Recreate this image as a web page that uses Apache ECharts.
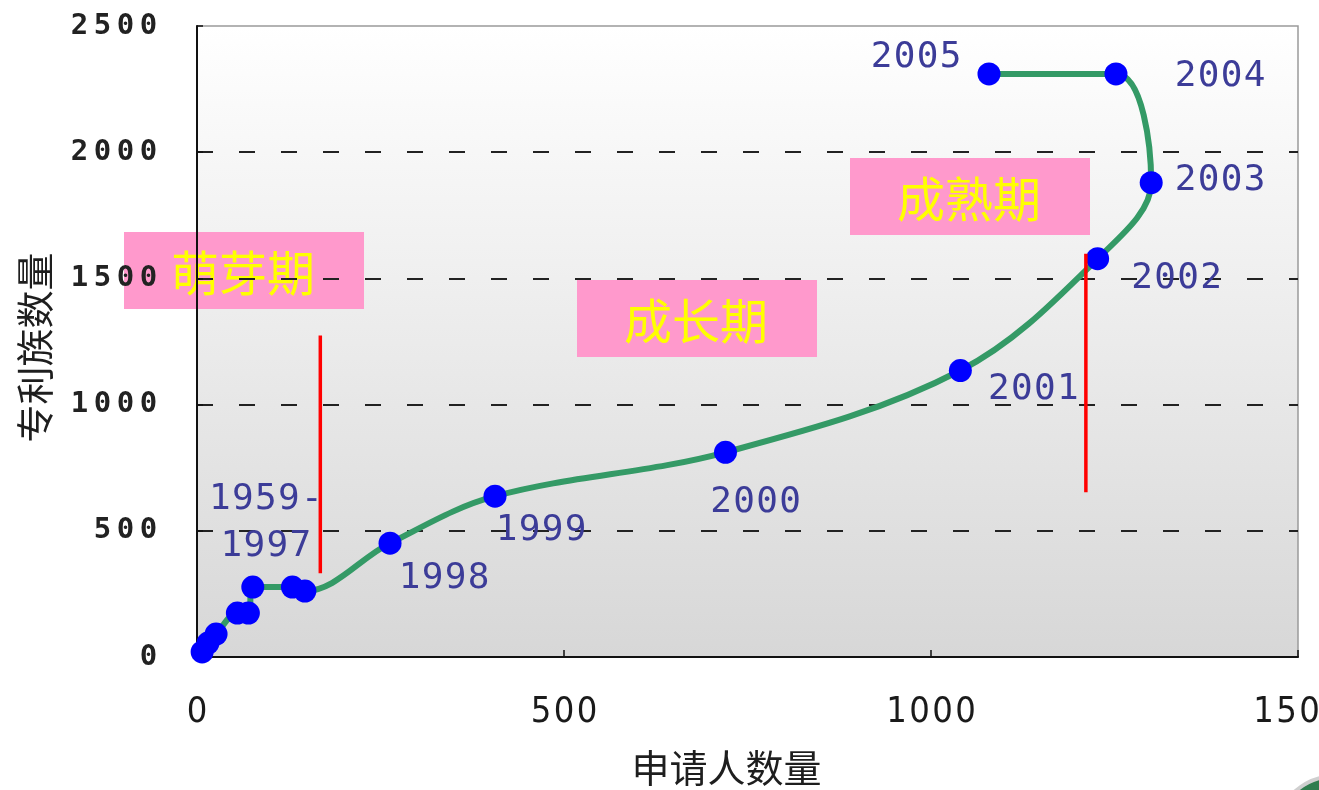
<!DOCTYPE html>
<html>
<head>
<meta charset="utf-8">
<script src="https://cdn.jsdelivr.net/npm/echarts@6/dist/echarts.min.js"></script>
<style>
  html, body { margin: 0; padding: 0; background: #ffffff; }
  #chart { width: 1319px; height: 790px; }
</style>
</head>
<body>
<div id="chart"></div>
<script>
// Cumulative applicants (x) vs cumulative patent families (y), one point per year
const applicants = [7, 15, 26, 55, 70, 76, 130, 147, 263, 406, 720, 1040, 1227, 1300, 1252, 1079];
const families   = [20, 55, 91, 174, 174, 277, 277, 261, 451, 637, 811, 1135, 1578, 1879, 2310, 2310];
const yearLabels = ['', '', '', '', '', '1959-\n1997', '', '', '1998', '1999', '2000', '2001', '2002', '2003', '2004', '2005'];

// Axis ticks
const xTicks = [0, 500, 1000, 1500];
const yTicks = [0, 500, 1000, 1500, 2000, 2500];

// Life-cycle phases and the red divider segments between them
const phaseNames = ['萌芽期', '成长期', '成熟期'];
const dividerApplicants = [168, 1211];
const dividerLow  = [332, 653];
const dividerHigh = [1274, 1598];

// Where each year label sits relative to its point (px)
const labelOffset = {
  '1959-\n1997': [13, -64],
  '1998': [54, 35],
  '1999': [46, 34],
  '2000': [30, 50],
  '2001': [73, 19],
  '2002': [79, 20],
  '2003': [69, -2],
  '2004': [104, 3],
  '2005': [-73, -16]
};

// Phase boxes (px)
const phaseBoxes = [
  { x: 124, y: 232 },
  { x: 577, y: 280 },
  { x: 850, y: 158 }
];

// Renders text one glyph per fixed-width cell, giving the wide tracking of the labels
function spaced(text, style) {
  return text.split('\n')
    .map(line => Array.from(line).map(ch => '{' + style + '|' + ch + '}').join(''))
    .join('\n');
}

const chart = echarts.init(document.getElementById('chart'), null, { renderer: 'canvas' });

const mainData = applicants.map((a, i) => {
  const item = { value: [a, families[i]] };
  const name = yearLabels[i];
  if (name) {
    item.label = {
      show: true,
      position: 'inside',
      offset: labelOffset[name],
      formatter: () => spaced(name, 'c')
    };
  }
  return item;
});

const dividerSeries = dividerApplicants.map((a, i) => ({
  type: 'line',
  data: [[a, dividerLow[i]], [a, dividerHigh[i]]],
  symbol: 'none',
  lineStyle: { color: '#ff0000', width: 3.5 },
  silent: true,
  z: 4
}));

const option = {
  backgroundColor: '#ffffff',
  animation: false,
  grid: {
    left: 197,
    right: 21,
    top: 26,
    bottom: 133,
    outerBoundsMode: 'none',
    containLabel: false,
    show: true,
    borderColor: '#9a9a9a',
    borderWidth: 1.5,
    backgroundColor: new echarts.graphic.LinearGradient(0, 0, 0, 1, [
      { offset: 0, color: '#ffffff' },
      { offset: 1, color: '#d7d7d7' }
    ])
  },
  xAxis: {
    type: 'value',
    min: xTicks[0],
    max: xTicks[xTicks.length - 1],
    interval: xTicks[1] - xTicks[0],
    name: '申请人数量',
    nameLocation: 'middle',
    nameGap: 92,
    nameTextStyle: { fontFamily: 'Noto Sans CJK SC', fontSize: 38, color: '#1e1e1e', padding: [0, 42, 0, 0] },
    axisLine: { show: true, lineStyle: { color: '#111111', width: 2 } },
    axisTick: { show: true, inside: true, length: 7, lineStyle: { color: '#111111', width: 1.5 } },
    splitLine: { show: false },
    axisLabel: {
      margin: 38,
      hideOverlap: false,
      formatter: v => spaced(String(v), 'd'),
      rich: {
        d: { width: 23, align: 'center', fontSize: 36, fontFamily: 'Liberation Sans Narrow, DejaVu Sans Condensed, sans-serif', color: '#1a1a1a' }
      }
    }
  },
  yAxis: {
    type: 'value',
    min: yTicks[0],
    max: yTicks[yTicks.length - 1],
    interval: yTicks[1] - yTicks[0],
    name: '专利族数量',
    nameLocation: 'middle',
    nameRotate: 90,
    nameGap: 143,
    nameTextStyle: { fontFamily: 'Noto Sans CJK SC', fontSize: 38, color: '#1e1e1e', padding: [0, 12, 0, 0] },
    axisLine: { show: true, lineStyle: { color: '#111111', width: 2 } },
    axisTick: { show: true, inside: true, length: 6, lineStyle: { color: '#111111', width: 1.5 } },
    splitLine: {
      show: true,
      showMinLine: false,
      showMaxLine: false,
      lineStyle: { color: '#222222', width: 2, type: [16, 26] }
    },
    axisLabel: {
      margin: 37,
      formatter: v => spaced(String(v), 'd'),
      rich: {
        d: { width: 23, align: 'center', fontSize: 29, fontWeight: 'bold', fontFamily: 'DejaVu Sans Mono, monospace', color: '#222222' }
      }
    }
  },
  series: [
    {
      type: 'line',
      data: mainData,
      smooth: 0.35,
      showAllSymbol: true,
      symbol: 'circle',
      symbolSize: 23,
      itemStyle: { color: '#0000ff' },
      lineStyle: { color: '#349a66', width: 6 },
      label: {
        show: false,
        align: 'center',
        verticalAlign: 'middle',
        rich: {
          c: { width: 23, align: 'center', lineHeight: 47, fontSize: 36, fontFamily: 'DejaVu Sans Mono, monospace', color: '#3c3c98' }
        }
      },
      z: 3
    },
    ...dividerSeries
  ],
  graphic: [
    ...phaseBoxes.map((b, i) => ({
      type: 'group',
      left: b.x,
      top: b.y,
      z: 10,
      children: [
        { type: 'rect', shape: { x: 0, y: 0, width: 240, height: 77 }, style: { fill: '#ff99cc' } },
        {
          type: 'text',
          x: 119, y: 41,
          style: {
            text: phaseNames[i],
            fill: '#ffff00',
            font: '48px "Noto Sans CJK SC"',
            align: 'center',
            verticalAlign: 'middle'
          }
        }
      ]
    })),
    {
      type: 'circle',
      shape: { cx: 1336, cy: 838, r: 62 },
      style: { fill: '#2f7d4e', stroke: '#cfcfcf', lineWidth: 4 },
      z: 10
    }
  ]
};

chart.setOption(option);
</script>
</body>
</html>
